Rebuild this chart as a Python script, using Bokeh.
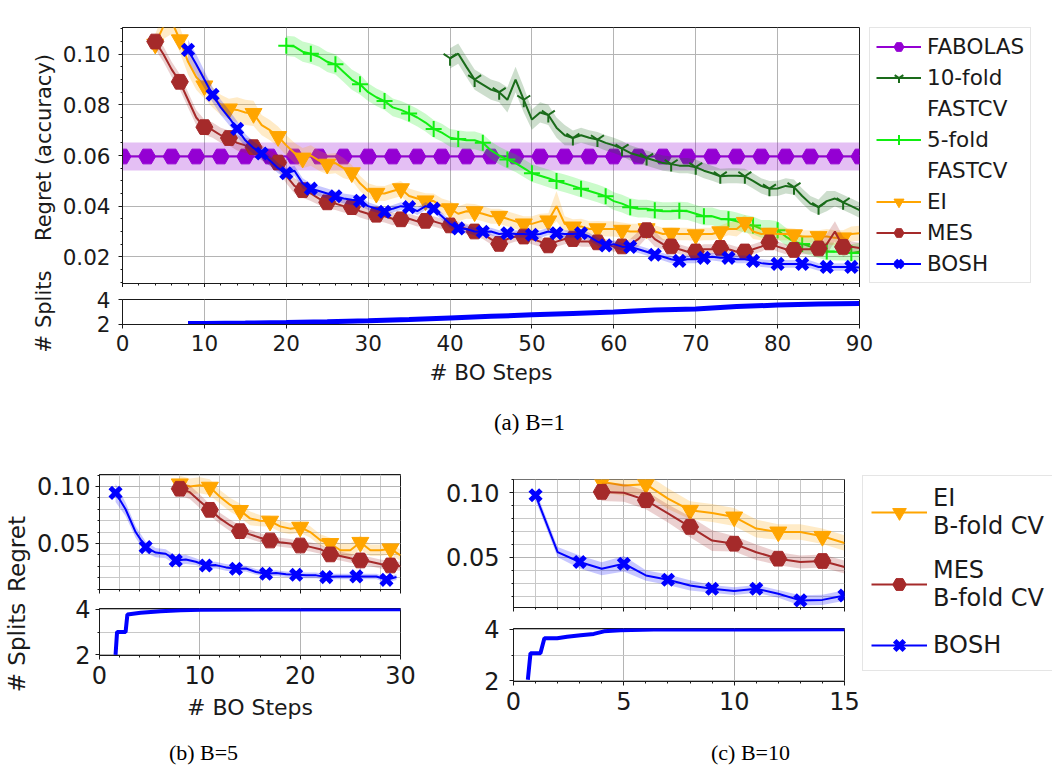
import numpy as np
from bokeh.plotting import figure
from bokeh.models import (Range1d, Legend, LegendItem, Label,
                          SingleIntervalTicker, FixedTicker, PrintfTickFormatter)
from bokeh.layouts import row, column
from bokeh.embed import file_html
from bokeh.resources import INLINE

# ======================= DATA =======================
# ---- (a) B=1 : regret (accuracy) vs BO steps ----
fabolas_a_value = 0.0596
fabolas_a_band = 0.0055
fabolas_a_last = 90

fast10_a_first = 40
fast10_a = [0.0984, 0.1002, 0.095, 0.090, 0.088, 0.086, 0.085, 0.082, 0.090, 0.082,
            0.0742, 0.077, 0.076, 0.071, 0.068, 0.0669, 0.068, 0.067, 0.0663, 0.065,
            0.064, 0.0627, 0.061, 0.060, 0.059, 0.058, 0.057, 0.0566, 0.056, 0.056,
            0.0554, 0.054, 0.053, 0.0518, 0.052, 0.052, 0.0518, 0.050, 0.048, 0.0469,
            0.047, 0.048, 0.0475, 0.044, 0.041, 0.0396, 0.042, 0.043, 0.0415, 0.040,
            0.0384]
fast10_a_band = [(40, 0.004), (47, 0.005), (50, 0.004), (55, 0.003), (86, 0.004), (87, 0.003)]

fast5_a_first = 20
fast5_a = [0.1033, 0.103, 0.101, 0.1002, 0.099, 0.097, 0.096, 0.093, 0.090, 0.0881,
           0.085, 0.083, 0.0815, 0.079, 0.078, 0.0766, 0.075, 0.073, 0.0705, 0.069,
           0.067, 0.0665, 0.066, 0.066, 0.0650, 0.062, 0.060, 0.0584, 0.057, 0.055,
           0.0530, 0.052, 0.051, 0.0499, 0.049, 0.048, 0.0469, 0.046, 0.045, 0.0439,
           0.042, 0.041, 0.0396, 0.039, 0.039, 0.0384, 0.038, 0.038, 0.0382, 0.038,
           0.037, 0.036, 0.036, 0.035, 0.0348, 0.034, 0.033, 0.0324, 0.031, 0.031,
           0.0305, 0.028, 0.026, 0.0251, 0.024, 0.023, 0.0221, 0.022, 0.022, 0.0215,
           0.022]
fast5_a_band = [(20, 0.004), (30, 0.0035)]

ei_a_first = 4
ei_a = [0.104, 0.111, 0.113, 0.1057, 0.097, 0.091, 0.0875, 0.083, 0.080, 0.0784,
        0.078, 0.077, 0.0766, 0.072, 0.070, 0.0675, 0.064, 0.061, 0.059, 0.060,
        0.058, 0.0566, 0.057, 0.055, 0.0532, 0.049, 0.046, 0.0451, 0.045, 0.046,
        0.0469, 0.044, 0.043, 0.0421, 0.042, 0.040, 0.039, 0.037, 0.038, 0.0378,
        0.037, 0.036, 0.036, 0.035, 0.034, 0.033, 0.033, 0.034, 0.0342, 0.040,
        0.033, 0.0318, 0.032, 0.031, 0.0311, 0.031, 0.031, 0.0305, 0.030, 0.030,
        0.0311, 0.030, 0.029, 0.0293, 0.029, 0.029, 0.0287, 0.029, 0.029, 0.0299,
        0.031, 0.031, 0.0336, 0.030, 0.029, 0.0293, 0.029, 0.029, 0.0287, 0.028,
        0.028, 0.028, 0.028, 0.0275, 0.0275, 0.029, 0.0293]
ei_a_band = [(4, 0.004), (5, 0.005), (11, 0.004), (14, 0.005), (17, 0.004), (28, 0.003),
             (53, 0.006), (54, 0.003), (64, 0.0025), (75, 0.003), (78, 0.0025), (86, 0.003)]

mes_a_first = 4
mes_a = [0.105, 0.100, 0.094, 0.0891, 0.082, 0.075, 0.0712, 0.070, 0.068, 0.0669,
         0.065, 0.064, 0.0633, 0.061, 0.059, 0.0572, 0.052, 0.048, 0.0463, 0.045,
         0.043, 0.0415, 0.041, 0.040, 0.0396, 0.038, 0.037, 0.0366, 0.036, 0.035,
         0.0348, 0.035, 0.034, 0.0342, 0.034, 0.033, 0.0324, 0.032, 0.031, 0.030,
         0.029, 0.027, 0.0251, 0.027, 0.028, 0.028, 0.027, 0.026, 0.0245, 0.026,
         0.027, 0.027, 0.026, 0.026, 0.0257, 0.025, 0.024, 0.0241, 0.025, 0.027,
         0.0305, 0.027, 0.025, 0.0241, 0.023, 0.022, 0.0221, 0.023, 0.023, 0.0235,
         0.023, 0.022, 0.0221, 0.023, 0.024, 0.0257, 0.024, 0.023, 0.0227, 0.023,
         0.023, 0.0233, 0.025, 0.030, 0.0239, 0.024, 0.0235]
mes_a_band = [(4, 0.003), (24, 0.0025), (34, 0.002), (63, 0.003), (66, 0.002), (86, 0.004), (89, 0.002)]

bosh_a_first = 8
bosh_a = [0.1017, 0.096, 0.090, 0.084, 0.079, 0.075, 0.0705, 0.066, 0.063, 0.0608,
          0.058, 0.055, 0.053, 0.054, 0.049, 0.0469, 0.046, 0.045, 0.0439, 0.043,
          0.0425, 0.0421, 0.040, 0.039, 0.0378, 0.039, 0.040, 0.0396, 0.038, 0.040,
          0.039, 0.036, 0.033, 0.0312, 0.031, 0.030, 0.0299, 0.030, 0.029, 0.0293,
          0.029, 0.029, 0.0287, 0.029, 0.030, 0.0293, 0.029, 0.029, 0.0293, 0.028,
          0.026, 0.0245, 0.025, 0.024, 0.0239, 0.023, 0.022, 0.0208, 0.020, 0.019,
          0.0184, 0.019, 0.019, 0.0196, 0.020, 0.0196, 0.0196, 0.019, 0.019, 0.0184,
          0.0175, 0.0172, 0.0172, 0.0172, 0.0172, 0.0172, 0.017, 0.016, 0.016, 0.016,
          0.016, 0.016, 0.0158]
bosh_a_band = [(8, 0.004), (10, 0.0035), (11, 0.003), (15, 0.0025), (18, 0.002), (30, 0.0015)]

splits_a_steps = [8, 10, 15, 20, 25, 30, 35, 40, 45, 50, 55, 60, 65, 70, 75, 80, 85, 90]
splits_a = [2.05, 2.06, 2.09, 2.13, 2.19, 2.27, 2.38, 2.51, 2.64, 2.77, 2.88, 2.99,
            3.17, 3.25, 3.45, 3.57, 3.65, 3.71]

# ---- (b) B=5 ----
bosh_b_first = 1.6
bosh_b = [0.0944, 0.080, 0.060, 0.0468, 0.042, 0.041, 0.0351, 0.036, 0.034, 0.0307,
          0.031, 0.029, 0.0278, 0.028, 0.025, 0.0234, 0.024, 0.023, 0.0225, 0.022,
          0.022, 0.0205, 0.021, 0.021, 0.0211, 0.021, 0.021, 0.0181, 0.0205]
bosh_b_band = [(1.6, 0.008), (2.6, 0.006), (3.6, 0.005), (5.6, 0.004), (9.6, 0.003), (14.6, 0.0025)]
mes_b_first = 8
mes_b = [0.098, 0.095, 0.087, 0.0795, 0.072, 0.066, 0.0608, 0.058, 0.055, 0.0526,
         0.051, 0.050, 0.0482, 0.047, 0.045, 0.0404, 0.039, 0.037, 0.0351, 0.034,
         0.032, 0.0307, 0.030]
mes_b_band = [(8, 0.006), (11, 0.005), (15, 0.004)]
ei_b_first = 8
ei_b = [0.1023, 0.100, 0.101, 0.0994, 0.091, 0.084, 0.079, 0.072, 0.070, 0.0696,
        0.065, 0.063, 0.0643, 0.060, 0.053, 0.050, 0.044, 0.044, 0.051, 0.044,
        0.044, 0.0453, 0.0395]
ei_b_band = [(8, 0.007), (12, 0.006), (16, 0.005), (24, 0.006), (27, 0.005)]
splits_b_steps = [1.6, 1.75, 2.6, 2.78, 4.1, 6.1, 8.1, 10.1, 30.0]
splits_b = [2.0, 3.0, 3.0, 3.77, 3.84, 3.91, 3.95, 3.98, 4.0]

# ---- (c) B=10 ----
bosh_c_first = 1
bosh_c = [0.0981, 0.0541, 0.0464, 0.0412, 0.0451, 0.036, 0.0327, 0.0283, 0.0257,
          0.0239, 0.0257, 0.0218, 0.0167, 0.0171, 0.0205]
bosh_c_band = [(1, 0.004), (3, 0.005), (5, 0.006), (6, 0.004), (9, 0.003), (13, 0.004)]
mes_c_first = 4
mes_c = [0.1007, 0.100, 0.0943, 0.084, 0.0736, 0.063, 0.0606, 0.054, 0.049, 0.0464,
         0.0472, 0.0425]
mes_c_band = [(4, 0.007), (8, 0.008), (10, 0.006), (12, 0.005)]
ei_c_first = 4
ei_c = [0.1085, 0.1057, 0.1067, 0.0955, 0.0865, 0.0844, 0.0813, 0.0723, 0.0697,
        0.0697, 0.0663, 0.0611]
ei_c_band = [(4, 0.008), (8, 0.007), (12, 0.006)]
splits_c_steps = [0.65, 0.77, 1.22, 1.4, 1.98, 2.43, 3.04, 3.64, 4.1, 4.85, 6.36, 15.0]
splits_c = [2.04, 3.07, 3.07, 3.65, 3.65, 3.71, 3.77, 3.82, 3.92, 3.96, 3.99, 4.0]

# ======================= STYLE =======================
FONT = "DejaVu Sans"
SERIF = "Liberation Serif"
INK = "#1a1a1a"
GRID = "#b4b4b4"
MINOR_GRID = "#c8c8c8"
COL = {"FABOLAS": "#9400d3", "FAST10": "#1a6b1a", "FAST5": "#11ee11",
       "EI": "#ffa500", "MES": "#a52a2a", "BOSH": "#0000ff"}
MARK = {"FABOLAS": ("hex", 17, 1), "FAST10": ("y", 15, 2), "FAST5": ("cross", 16, 2),
        "EI": ("inverted_triangle", 17, 1), "MES": ("hex", 17, 1), "BOSH": ("x", 15, 5)}


def steps_of(first, vals):
    return np.array([first + i for i in range(len(vals))], dtype=float)


def band_of(xs, segs):
    out = []
    for s in xs:
        w = segs[0][1]
        for start, val in segs:
            if s >= start - 1e-9:
                w = val
        out.append(w)
    return np.array(out)


def draw_series(p, key, xs, ys, band, every, alpha=0.22, with_band=True):
    xs = np.asarray(xs, float)
    ys = np.asarray(ys, float)
    c = COL[key]
    m, s, lw = MARK[key]
    if with_band:
        band = np.asarray(band, float)
        p.varea(x=xs, y1=ys - band, y2=ys + band, fill_color=c, fill_alpha=alpha)
    ln = p.line(xs, ys, line_color=c, line_width=2)
    sc = p.scatter(xs[::every], ys[::every], marker=m, size=s, fill_color=c,
                   line_color=c, line_width=lw)
    return [ln, sc]


def make_fig(width, height, l, r, t, b, xr, yr):
    p = figure(width=width, height=height, x_range=xr, y_range=yr,
               min_border_left=l, min_border_right=r, min_border_top=t,
               min_border_bottom=b, output_backend="svg", toolbar_location=None)
    p.outline_line_color = INK
    p.outline_line_width = 1
    p.background_fill_color = "white"
    p.border_fill_color = "white"
    return p


def style_axes(p, tick_px, label_px, xstand=6, ystand=6, label_standoff=6):
    for ax in p.axis:
        ax.major_label_text_font = FONT
        ax.major_label_text_font_size = f"{tick_px}px"
        ax.major_label_text_color = INK
        ax.axis_label_text_font = FONT
        ax.axis_label_text_font_size = f"{label_px}px"
        ax.axis_label_text_font_style = "normal"
        ax.axis_label_text_color = INK
        ax.axis_line_color = INK
        ax.major_tick_line_color = INK
        ax.minor_tick_line_color = INK
        ax.major_tick_in = 0
        ax.major_tick_out = 4
        ax.minor_tick_in = 0
        ax.minor_tick_out = 2
        ax.axis_label_standoff = label_standoff
    p.xaxis.major_label_standoff = xstand
    p.yaxis.major_label_standoff = ystand


def hide_x_labels(p):
    p.xaxis.major_label_text_font_size = "0px"
    p.xaxis.major_label_text_color = None
    p.xaxis.major_label_standoff = 0


def set_grid(p, xt, yt, minor_x=False, minor_y=False, show_y=True):
    p.xaxis.ticker = xt
    p.yaxis.ticker = yt
    p.xgrid.ticker = xt
    p.ygrid.ticker = yt
    p.xgrid.grid_line_color = GRID
    p.ygrid.grid_line_color = GRID if show_y else None
    p.xgrid.grid_line_width = 1
    p.ygrid.grid_line_width = 1
    if minor_x:
        p.xgrid.minor_grid_line_color = MINOR_GRID
    if minor_y:
        p.ygrid.minor_grid_line_color = MINOR_GRID


def text_fig(w, h, texts, angle, font, color):
    f = figure(width=w, height=h, x_range=Range1d(0, w), y_range=Range1d(0, h),
               x_axis_type=None, y_axis_type=None, min_border=0,
               output_backend="svg", toolbar_location=None)
    f.outline_line_color = None
    f.grid.visible = False
    for txt, x, y, size in texts:
        f.add_layout(Label(x=x, y=y, text=txt, angle=angle, angle_units="deg",
                           text_align="center", text_baseline="middle",
                           text_font=font, text_font_size=f"{size}px", text_color=color))
    return f


def legend_fig(w, h, left, top, entries, **legend_kw):
    # glyphs use the real series data, but the view range sits away from it,
    # so only the legend (which needs renderers) shows in this panel.
    # An entry with show=False is a continuation line of the previous label.
    f = figure(width=w, height=h, x_range=Range1d(-3, -2), y_range=Range1d(-3, -2),
               x_axis_type=None, y_axis_type=None,
               min_border_left=left, min_border_top=top, min_border_right=0,
               min_border_bottom=0, output_backend="svg", toolbar_location=None)
    f.outline_line_color = None
    f.grid.visible = False
    items = []
    for key, lab, xs, ys, show in entries:
        if show:
            rs = draw_series(f, key, xs, ys, None, 1, with_band=False)
        else:
            rs = [f.line(np.asarray(xs, float), np.asarray(ys, float), line_alpha=0)]
        items.append(LegendItem(label=lab, renderers=rs))
    leg = Legend(items=items, location="top_left", margin=0,
                 label_text_font=FONT, label_text_color=INK,
                 border_line_color="#cccccc", border_line_width=1,
                 background_fill_alpha=0.85, **legend_kw)
    f.add_layout(leg)
    return f


# ======================= PANEL (a) =======================
xa = Range1d(0, 90)
pA = make_fig(808, 287, 66, 5, 5, 4, xa, Range1d(0.009455, 0.110545))
style_axes(pA, 21.5, 21.5, ystand=8)
hide_x_labels(pA)
set_grid(pA, SingleIntervalTicker(interval=10, num_minor_ticks=5),
         SingleIntervalTicker(interval=0.02, num_minor_ticks=4))
pA.yaxis.formatter = PrintfTickFormatter(format="%.2f")

fab_x = np.arange(0, fabolas_a_last + 1, dtype=float)
fab_y = np.full_like(fab_x, fabolas_a_value)
draw_series(pA, "FABOLAS", fab_x, fab_y, np.full_like(fab_x, fabolas_a_band), 3, alpha=0.25)
x10 = steps_of(fast10_a_first, fast10_a)
draw_series(pA, "FAST10", x10, fast10_a, band_of(x10, fast10_a_band), 3)
x5 = steps_of(fast5_a_first, fast5_a)
draw_series(pA, "FAST5", x5, fast5_a, band_of(x5, fast5_a_band), 3)
xe = steps_of(ei_a_first, ei_a)
draw_series(pA, "EI", xe, ei_a, band_of(xe, ei_a_band), 3)
xm = steps_of(mes_a_first, mes_a)
draw_series(pA, "MES", xm, mes_a, band_of(xm, mes_a_band), 3)
xb = steps_of(bosh_a_first, bosh_a)
draw_series(pA, "BOSH", xb, bosh_a, band_of(xb, bosh_a_band), 3)

legFA = legend_fig(188, 287, 5, 27,
                   [("FABOLAS", "FABOLAS", fab_x, fab_y, True),
                    ("FAST10", "10-fold", x10, fast10_a, True),
                    ("FAST10", "FASTCV", x10, fast10_a, False),
                    ("FAST5", "5-fold", x5, fast5_a, True),
                    ("FAST5", "FASTCV", x5, fast5_a, False),
                    ("EI", "EI", xe, ei_a, True),
                    ("MES", "MES", xm, mes_a, True),
                    ("BOSH", "BOSH", xb, bosh_a, True)],
                   padding=6, spacing=6, glyph_width=45, glyph_height=25,
                   label_standoff=6, label_text_font_size="21.5px")

pS = make_fig(996, 108, 66, 193, 12, 71, xa, Range1d(1.97, 4.03))
style_axes(pS, 21.5, 21.5, ystand=8)
set_grid(pS, SingleIntervalTicker(interval=10, num_minor_ticks=0),
         FixedTicker(ticks=[2, 4]), show_y=False)
pS.xaxis.axis_label = "# BO Steps"
pS.line(splits_a_steps, splits_a, line_color=COL["BOSH"], line_width=5)

labA = text_fig(56, 395, [("Regret (accuracy)", 43, 248, 21), ("# Splits", 43, 84, 21)],
                90, FONT, INK)
capA = text_fig(1052, 45, [("(a) B=1", 529, 18, 23)], 0, SERIF, "black")

# ======================= PANEL (b) =======================
xb_r = Range1d(0, 30)
pBr = make_fig(388, 154, 67, 20, 34, 5, xb_r, Range1d(0.0096, 0.1105))
style_axes(pBr, 24, 22, ystand=5)
hide_x_labels(pBr)
set_grid(pBr, SingleIntervalTicker(interval=10, num_minor_ticks=5),
         SingleIntervalTicker(interval=0.05, num_minor_ticks=5), minor_x=True, minor_y=True)
pBr.yaxis.formatter = PrintfTickFormatter(format="%.2f")
xe_b = steps_of(ei_b_first, ei_b)
draw_series(pBr, "EI", xe_b, ei_b, band_of(xe_b, ei_b_band), 3)
xm_b = steps_of(mes_b_first, mes_b)
draw_series(pBr, "MES", xm_b, mes_b, band_of(xm_b, mes_b_band), 3)
xbo_b = steps_of(bosh_b_first, bosh_b)
draw_series(pBr, "BOSH", xbo_b, bosh_b, band_of(xbo_b, bosh_b_band), 3)

pBs = make_fig(388, 142, 67, 20, 14, 81, xb_r, Range1d(1.97, 4.03))
style_axes(pBs, 24, 22, ystand=5, label_standoff=8)
set_grid(pBs, SingleIntervalTicker(interval=10, num_minor_ticks=5),
         FixedTicker(ticks=[2, 4], minor_ticks=[3]), minor_y=True)
pBs.xaxis.axis_label = "# BO Steps"
pBs.line(splits_b_steps, splits_b, line_color=COL["BOSH"], line_width=4)

labB = text_fig(32, 296, [("Regret", 16, 207, 23), ("# Splits", 16, 101, 23)], 90, FONT, INK)

# ======================= PANEL (c) =======================
xc_r = Range1d(0, 15)
pCr = make_fig(442, 172, 93, 18, 39, 5, xc_r, Range1d(0.0112, 0.1103))
style_axes(pCr, 24, 22, ystand=10)
hide_x_labels(pCr)
set_grid(pCr, SingleIntervalTicker(interval=5, num_minor_ticks=5),
         SingleIntervalTicker(interval=0.05, num_minor_ticks=5), minor_x=True, minor_y=True)
pCr.yaxis.formatter = PrintfTickFormatter(format="%.2f")
xe_c = steps_of(ei_c_first, ei_c)
draw_series(pCr, "EI", xe_c, ei_c, band_of(xe_c, ei_c_band), 2)
xm_c = steps_of(mes_c_first, mes_c)
draw_series(pCr, "MES", xm_c, mes_c, band_of(xm_c, mes_c_band), 2)
xbo_c = steps_of(bosh_c_first, bosh_c)
draw_series(pCr, "BOSH", xbo_c, bosh_c, band_of(xbo_c, bosh_c_band), 2)

pCs = make_fig(442, 124, 93, 18, 16, 55, xc_r, Range1d(1.97, 4.03))
style_axes(pCs, 24, 22, ystand=10)
set_grid(pCs, SingleIntervalTicker(interval=5, num_minor_ticks=5),
         FixedTicker(ticks=[2, 4], minor_ticks=[3]), minor_y=True)
pCs.line(splits_c_steps, splits_c, line_color=COL["BOSH"], line_width=4)

legFC = legend_fig(190, 296, 0, 35,
                   [("EI", "EI\nB-fold CV", xe_c, ei_c, True),
                    ("MES", "MES\nB-fold CV", xm_c, mes_c, True),
                    ("BOSH", "BOSH", xbo_c, bosh_c, True)],
                   padding=8, spacing=16, glyph_width=56, glyph_height=34,
                   label_standoff=6, label_text_font_size="24px",
                   label_text_line_height=1.1)

capBC = text_fig(1052, 30, [("(b) B=5", 203, 14, 22), ("(c) B=10", 750, 14, 22)], 0, SERIF, "black")

# ======================= LAYOUT =======================
top = column(row(labA, column(row(pA, legFA), pS)), capA)
bottom = column(row(labB, column(pBr, pBs), column(pCr, pCs), legFC), capBC)
page = column(top, bottom)

open("out.html", "w").write(file_html(page, INLINE))
